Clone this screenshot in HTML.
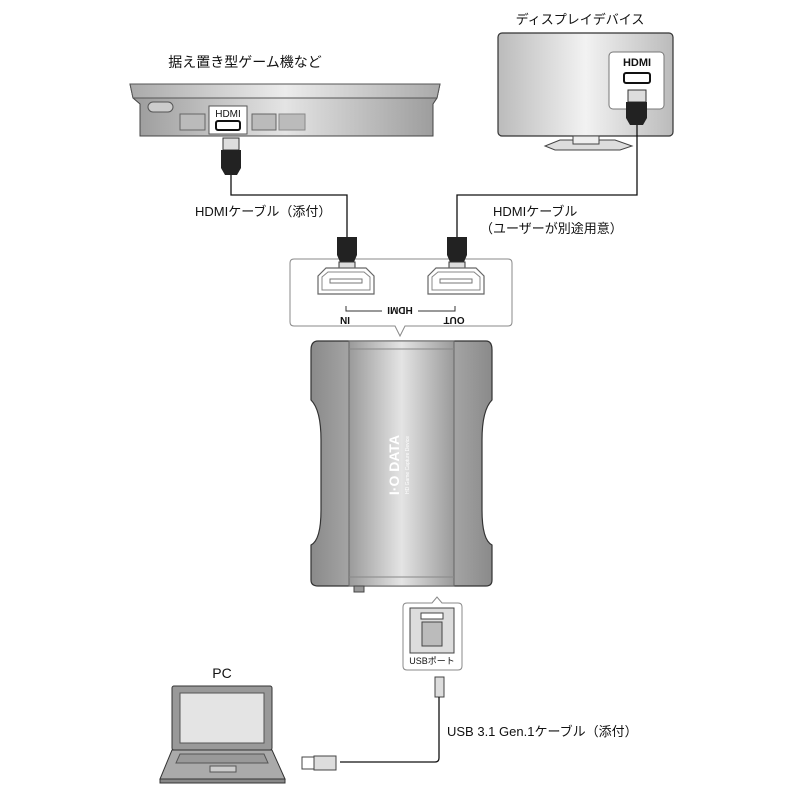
<!DOCTYPE html>
<html><head><meta charset="utf-8"><style>
body{margin:0;background:#fff}
svg text{font-family:"Liberation Sans","Noto Sans CJK JP",sans-serif;fill:#111}
</style></head><body>
<svg width="800" height="800" viewBox="0 0 800 800" xmlns="http://www.w3.org/2000/svg">
<defs>
<linearGradient id="g1" x1="0" x2="1"><stop offset="0" stop-color="#9a9a9a"/><stop offset=".5" stop-color="#e4e4e4"/><stop offset="1" stop-color="#9a9a9a"/></linearGradient>
<linearGradient id="g2" x1="0" x2="1"><stop offset="0" stop-color="#8a8a8a"/><stop offset=".5" stop-color="#c8c8c8"/><stop offset="1" stop-color="#8a8a8a"/></linearGradient>
<linearGradient id="g3" x1="0" x2="1"><stop offset="0" stop-color="#bbb"/><stop offset=".5" stop-color="#f2f2f2"/><stop offset="1" stop-color="#bbb"/></linearGradient>
<linearGradient id="g4" x1="0" x2="1"><stop offset="0" stop-color="#aaa"/><stop offset=".5" stop-color="#ececec"/><stop offset="1" stop-color="#aaa"/></linearGradient>
</defs>

<!-- console -->
<text x="245" y="67" font-size="14" text-anchor="middle">据え置き型ゲーム機など</text>
<path d="M130 84 L440 84 L437 98 L433 104 L433 136 L140 136 L140 104 L133 98 Z" fill="url(#g1)" stroke="#444" stroke-width="1"/>
<path d="M130 84 L440 84 L437 98 L133 98 Z" fill="url(#g4)" stroke="#555"/>
<rect x="148" y="102" width="25" height="10" rx="5" fill="#ccc" stroke="#555"/>
<rect x="180" y="114" width="25" height="16" fill="#bbb" stroke="#666"/>
<rect x="209" y="106" width="38" height="28" fill="#fff" stroke="#555"/>
<text x="228" y="117" font-size="10" text-anchor="middle">HDMI</text>
<rect x="216" y="121" width="24" height="9" rx="2" fill="#fff" stroke="#111" stroke-width="2"/>
<rect x="252" y="114" width="24" height="16" fill="#bbb" stroke="#666"/>
<rect x="279" y="114" width="26" height="16" fill="#bbb" stroke="#888"/>
<!-- console plug -->
<rect x="223" y="138" width="16" height="12" fill="#ddd" stroke="#333"/>
<path d="M221 150 H241 V168 L237 175 H225 L221 168 Z" fill="#222"/>
<path d="M231 175 V195 H347 V237" stroke="#111" stroke-width="1.3" fill="none"/>

<!-- display -->
<text x="580" y="24" font-size="13" text-anchor="middle">ディスプレイデバイス</text>
<rect x="498" y="33" width="175" height="103" rx="4" fill="url(#g3)" stroke="#333" stroke-width="1.2"/>
<path d="M560 140 L545 146 L555 150 L620 150 L632 146 L615 140 Z" fill="#ddd" stroke="#444"/>
<rect x="573" y="136" width="26" height="8" fill="#eee" stroke="#444"/>
<rect x="609" y="52" width="55" height="57" rx="4" fill="#fff" stroke="#777"/>
<text x="637" y="66" font-size="11" text-anchor="middle" font-weight="bold">HDMI</text>
<rect x="624" y="73" width="26" height="10" rx="2" fill="#fff" stroke="#111" stroke-width="2"/>
<rect x="628" y="90" width="18" height="12" fill="#ddd" stroke="#333"/>
<path d="M626 102 H647 V118 L643 125 H630 L626 118 Z" fill="#222"/>
<path d="M637 125 V195 H457 V237" stroke="#111" stroke-width="1.3" fill="none"/>

<text x="195" y="216" font-size="13">HDMIケーブル（添付）</text>
<text x="493" y="216" font-size="13">HDMIケーブル</text>
<text x="480" y="233" font-size="13">（ユーザーが別途用意）</text>

<!-- callout -->
<path d="M294 259 H508 Q512 259 512 263 V322 Q512 326 508 326 H405 L400 336 L395 326 H294 Q290 326 290 322 V263 Q290 259 294 259 Z" fill="#fff" stroke="#888"/>
<path d="M337 237 H357 V255 L354 262 H340 L337 255 Z" fill="#222"/>
<rect x="339" y="262" width="16" height="9" fill="#ddd" stroke="#333"/>
<path d="M447 237 H467 V255 L464 262 H450 L447 255 Z" fill="#222"/>
<rect x="449" y="262" width="16" height="9" fill="#ddd" stroke="#333"/>
<path d="M318 276 L326 268 H366 L374 276 V294 H318 Z" fill="#fff" stroke="#666" stroke-width="1.2"/>
<path d="M322 277 L328 272 H364 L370 277 V290 H322 Z" fill="#fff" stroke="#888"/>
<rect x="330" y="279" width="32" height="4" fill="#fff" stroke="#777"/>
<path d="M428 276 L436 268 H476 L484 276 V294 H428 Z" fill="#fff" stroke="#666" stroke-width="1.2"/>
<path d="M432 277 L438 272 H474 L480 277 V290 H432 Z" fill="#fff" stroke="#888"/>
<rect x="440" y="279" width="32" height="4" fill="#fff" stroke="#777"/>
<g transform="rotate(180 400 311)">
<text x="400" y="315" font-size="10" font-weight="bold" text-anchor="middle">HDMI</text>
<text x="346" y="305" font-size="10" font-weight="bold" text-anchor="middle">OUT</text>
<text x="455" y="305" font-size="10" font-weight="bold" text-anchor="middle">IN</text>
</g>
<path d="M346 306 V311 H382 M418 311 H455 V306" stroke="#333" fill="none"/>

<!-- device -->
<path d="M318 341 H486 Q492 341 492 350 V400 Q482 410 482 440 V510 Q482 540 492 545 V580 Q492 586 486 586 H318 Q311 586 311 580 V545 Q321 540 321 510 V440 Q321 410 311 400 V350 Q311 341 318 341 Z" fill="url(#g2)" stroke="#333" stroke-width="1.2"/>
<rect x="349" y="341" width="105" height="245" fill="url(#g1)" stroke="#666"/>
<line x1="349" y1="349" x2="454" y2="349" stroke="#888"/>
<line x1="349" y1="577" x2="454" y2="577" stroke="#888"/>
<rect x="354" y="586" width="10" height="6" fill="#999" stroke="#444"/>
<g transform="rotate(-90 402 465)">
<text x="402" y="462" font-size="14" font-weight="bold" text-anchor="middle" style="fill:#fff">I·O DATA</text>
<text x="402" y="472" font-size="5" text-anchor="middle" style="fill:#fff">HD Game Capture Device</text>
</g>

<!-- USB callout -->
<path d="M407 603 H432 L437 597 L442 603 H458 Q462 603 462 607 V666 Q462 670 458 670 H407 Q403 670 403 666 V607 Q403 603 407 603 Z" fill="#fff" stroke="#888"/>
<rect x="410" y="608" width="44" height="45" fill="#ddd" stroke="#444"/>
<rect x="421" y="613" width="22" height="6" fill="#fff" stroke="#444"/>
<rect x="422" y="622" width="20" height="24" fill="#bbb" stroke="#444"/>
<text x="432" y="664" font-size="9" text-anchor="middle">USBポート</text>
<rect x="435" y="677" width="9" height="20" fill="#ddd" stroke="#444"/>
<path d="M439 697 V758 Q439 762 435 762 H340" stroke="#111" stroke-width="1.3" fill="none"/>
<text x="447" y="736" font-size="13">USB 3.1 Gen.1ケーブル（添付）</text>
<rect x="302" y="757" width="12" height="12" fill="#fff" stroke="#444"/>
<rect x="314" y="756" width="22" height="14" fill="#ddd" stroke="#444"/>

<!-- PC -->
<text x="222" y="678" font-size="14" text-anchor="middle">PC</text>
<rect x="172" y="686" width="100" height="64" rx="2" fill="#999" stroke="#333"/>
<rect x="180" y="693" width="84" height="50" fill="#e4e4e4" stroke="#555"/>
<path d="M172 750 H272 L285 779 H160 Z" fill="#aaa" stroke="#333"/>
<path d="M180 754 H264 L268 763 H176 Z" fill="#999" stroke="#555"/>
<rect x="210" y="766" width="26" height="6" fill="#ccc" stroke="#555"/>
<rect x="160" y="779" width="125" height="4" fill="#888" stroke="#333"/>
</svg>
</body></html>
